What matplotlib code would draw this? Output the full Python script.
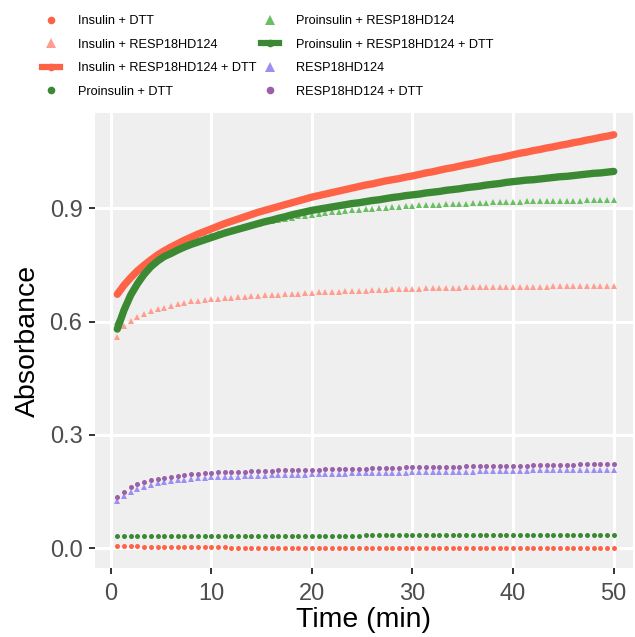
import numpy as np
import matplotlib
matplotlib.use("Agg")
import matplotlib.pyplot as plt
from matplotlib.lines import Line2D

plt.rcParams['font.family'] = ['Liberation Sans', 'DejaVu Sans']

# kinetic read every 40 s, 75 reads
time_min = np.arange(1, 76) * 40 / 60

insulin_dtt = [
    0.006, 0.006, 0.005, 0.005, 0.004, 0.004, 0.004, 0.003, 0.003, 0.003, 0.003, 0.003, 0.003, 0.003, 0.003,
    0.003, 0.003, 0.002, 0.002, 0.002, 0.002, 0.002, 0.002, 0.002, 0.002, 0.002, 0.002, 0.002, 0.002, 0.002,
    0.002, 0.002, 0.001, 0.001, 0.001, 0.001, 0.001, 0.001, 0.001, 0.001, 0.001, 0.001, 0.001, 0.001, 0.001,
    0.001, 0.001, 0.001, 0.001, 0.001, 0.001, 0.001, 0.001, 0.000, 0.000, 0.000, 0.000, 0.000, 0.000, 0.000,
    0.000, 0.000, 0.000, 0.000, 0.000, 0.000, 0.000, 0.000, 0.000, 0.000, 0.000, 0.000, 0.000, 0.000, 0.000,
]
insulin_resp = [
    0.558, 0.587, 0.602, 0.613, 0.620, 0.628, 0.633, 0.637, 0.641, 0.646, 0.650, 0.653, 0.655, 0.657, 0.659,
    0.660, 0.662, 0.663, 0.664, 0.666, 0.667, 0.668, 0.669, 0.670, 0.671, 0.672, 0.673, 0.674, 0.675, 0.676,
    0.677, 0.678, 0.679, 0.679, 0.680, 0.681, 0.681, 0.682, 0.683, 0.683, 0.684, 0.685, 0.685, 0.686, 0.687,
    0.687, 0.688, 0.688, 0.688, 0.689, 0.689, 0.689, 0.690, 0.690, 0.690, 0.690, 0.691, 0.691, 0.691, 0.691,
    0.692, 0.692, 0.692, 0.692, 0.692, 0.693, 0.693, 0.693, 0.693, 0.693, 0.694, 0.694, 0.694, 0.694, 0.694,
]
insulin_resp_dtt = [
    0.672, 0.696, 0.716, 0.734, 0.749, 0.763, 0.776, 0.787, 0.797, 0.806, 0.815, 0.823, 0.831, 0.838, 0.845,
    0.852, 0.859, 0.865, 0.871, 0.877, 0.883, 0.889, 0.894, 0.899, 0.904, 0.909, 0.914, 0.919, 0.924, 0.929,
    0.933, 0.937, 0.941, 0.945, 0.949, 0.953, 0.957, 0.961, 0.964, 0.968, 0.972, 0.975, 0.978, 0.982, 0.985,
    0.989, 0.993, 0.996, 1.000, 1.004, 1.007, 1.011, 1.015, 1.018, 1.022, 1.026, 1.030, 1.033, 1.037, 1.041,
    1.045, 1.048, 1.052, 1.055, 1.059, 1.062, 1.066, 1.069, 1.073, 1.076, 1.080, 1.083, 1.087, 1.090, 1.094,
]
proinsulin_dtt = [
    0.033, 0.032, 0.032, 0.032, 0.032, 0.032, 0.032, 0.032, 0.032, 0.032, 0.032, 0.032, 0.032, 0.032, 0.032,
    0.032, 0.032, 0.032, 0.032, 0.032, 0.033, 0.033, 0.033, 0.033, 0.033, 0.033, 0.033, 0.033, 0.033, 0.033,
    0.033, 0.033, 0.033, 0.033, 0.033, 0.033, 0.033, 0.034, 0.034, 0.034, 0.034, 0.034, 0.034, 0.034, 0.034,
    0.034, 0.034, 0.034, 0.034, 0.034, 0.034, 0.034, 0.034, 0.034, 0.034, 0.034, 0.034, 0.034, 0.034, 0.034,
    0.034, 0.034, 0.034, 0.035, 0.035, 0.035, 0.035, 0.035, 0.035, 0.035, 0.035, 0.035, 0.035, 0.035, 0.035,
]
proinsulin_resp = [
    0.600, 0.638, 0.675, 0.705, 0.730, 0.750, 0.765, 0.778, 0.788, 0.797, 0.805, 0.812, 0.818, 0.823, 0.828,
    0.833, 0.838, 0.843, 0.847, 0.851, 0.855, 0.859, 0.862, 0.866, 0.869, 0.872, 0.875, 0.878, 0.880, 0.883,
    0.885, 0.887, 0.889, 0.890, 0.892, 0.894, 0.895, 0.897, 0.898, 0.900, 0.901, 0.902, 0.904, 0.905, 0.906,
    0.907, 0.908, 0.909, 0.909, 0.910, 0.911, 0.912, 0.912, 0.913, 0.914, 0.914, 0.915, 0.916, 0.916, 0.917,
    0.917, 0.918, 0.918, 0.918, 0.919, 0.919, 0.919, 0.920, 0.920, 0.920, 0.921, 0.921, 0.921, 0.922, 0.922,
]
proinsulin_resp_dtt = [
    0.580, 0.630, 0.670, 0.700, 0.725, 0.745, 0.760, 0.772, 0.780, 0.789, 0.797, 0.804, 0.810, 0.816, 0.822,
    0.828, 0.834, 0.839, 0.844, 0.849, 0.854, 0.859, 0.864, 0.868, 0.873, 0.877, 0.882, 0.886, 0.890, 0.894,
    0.897, 0.900, 0.903, 0.906, 0.909, 0.912, 0.914, 0.917, 0.920, 0.922, 0.925, 0.928, 0.930, 0.933, 0.935,
    0.937, 0.940, 0.942, 0.944, 0.947, 0.949, 0.951, 0.954, 0.956, 0.958, 0.961, 0.963, 0.965, 0.968, 0.970,
    0.972, 0.974, 0.975, 0.977, 0.979, 0.981, 0.983, 0.984, 0.986, 0.988, 0.990, 0.992, 0.993, 0.995, 0.997,
]
resp = [
    0.126, 0.139, 0.149, 0.157, 0.163, 0.168, 0.172, 0.175, 0.178, 0.180, 0.182, 0.184, 0.185, 0.187, 0.188,
    0.189, 0.189, 0.190, 0.190, 0.191, 0.191, 0.192, 0.192, 0.193, 0.193, 0.194, 0.194, 0.195, 0.195, 0.196,
    0.196, 0.196, 0.197, 0.197, 0.197, 0.198, 0.198, 0.198, 0.199, 0.199, 0.199, 0.200, 0.200, 0.200, 0.201,
    0.201, 0.201, 0.202, 0.202, 0.202, 0.203, 0.203, 0.203, 0.203, 0.204, 0.204, 0.204, 0.204, 0.205, 0.205,
    0.205, 0.205, 0.206, 0.206, 0.206, 0.206, 0.206, 0.207, 0.207, 0.207, 0.207, 0.207, 0.208, 0.208, 0.208,
]
resp_dtt = [
    0.137, 0.150, 0.161, 0.169, 0.175, 0.180, 0.184, 0.187, 0.190, 0.192, 0.194, 0.196, 0.197, 0.199, 0.200,
    0.201, 0.201, 0.202, 0.203, 0.203, 0.204, 0.204, 0.205, 0.205, 0.206, 0.206, 0.207, 0.207, 0.208, 0.208,
    0.208, 0.209, 0.209, 0.210, 0.210, 0.210, 0.211, 0.211, 0.212, 0.212, 0.212, 0.213, 0.213, 0.214, 0.214,
    0.214, 0.215, 0.215, 0.215, 0.216, 0.216, 0.216, 0.217, 0.217, 0.217, 0.218, 0.218, 0.218, 0.219, 0.219,
    0.219, 0.219, 0.220, 0.220, 0.220, 0.221, 0.221, 0.221, 0.221, 0.222, 0.222, 0.222, 0.222, 0.223, 0.223,
]

labels = ["Insulin + DTT", "Insulin + RESP18HD124", "Insulin + RESP18HD124 + DTT",
          "Proinsulin + DTT", "Proinsulin + RESP18HD124", "Proinsulin + RESP18HD124 + DTT",
          "RESP18HD124", "RESP18HD124 + DTT"]
series = [insulin_dtt, insulin_resp, insulin_resp_dtt, proinsulin_dtt,
          proinsulin_resp, proinsulin_resp_dtt, resp, resp_dtt]
colors = ["#FF6347", "#FF9E90", "#FF6347", "#3B8A33",
          "#6BBF63", "#3B8A33", "#9D8FF2", "#9A60A8"]
kinds = ["dot", "tri", "line", "dot", "tri", "line", "tri", "dot"]

fig = plt.figure(figsize=(6.35, 6.37), dpi=100)
ax = fig.add_axes([0.1496, 0.1083, 0.847, 0.714])
ax.set_facecolor("#EFEFEF")
for s in ax.spines.values():
    s.set_visible(False)

handles = []
for y, c, k, lab in zip(series, colors, kinds, labels):
    if k == "dot":
        ax.plot(time_min, y, "o", color=c, ms=3.6, mew=0, zorder=3)
        h = Line2D([], [], marker="o", ls="none", color=c, ms=5.5, mew=0)
    elif k == "tri":
        ax.plot(time_min, y, "^", color=c, ms=4.8, mew=0, zorder=3)
        h = Line2D([], [], marker="^", ls="none", color=c, ms=6.5, mew=0)
    else:
        ax.plot(time_min, y, "-", color=c, lw=5.3, solid_capstyle="round", zorder=4)
        h = Line2D([], [], marker="o", ls="-", lw=4.5, color=c, ms=5.5, mew=0)
    handles.append(h)

ax.set_xlim(-1.55, 51.9)
ax.set_ylim(-0.052, 1.151)
ax.set_xticks([0, 10, 20, 30, 40, 50])
ax.set_yticks([0.0, 0.3, 0.6, 0.9])
ax.set_yticklabels(["0.0", "0.3", "0.6", "0.9"])
ax.grid(True, color="white", lw=2.2)
ax.set_axisbelow(True)
ax.tick_params(length=4, width=1.4, color="#333333", labelsize=17, labelcolor="#4D4D4D")
ax.tick_params(axis="y", pad=5)
ax.tick_params(axis="x", pad=7)
ax.set_xlabel("Time (min)", fontsize=20.5, labelpad=1)
ax.set_ylabel("Absorbance", fontsize=20.5, labelpad=6)

fig.legend(handles, labels, loc="upper left", bbox_to_anchor=(0.066, 0.976),
           ncol=2, frameon=False, fontsize=9.2, handlelength=1.4,
           handletextpad=1.4, labelspacing=0.9, columnspacing=0.35,
           borderpad=0, borderaxespad=0)

fig.savefig("out.png", dpi=100)
